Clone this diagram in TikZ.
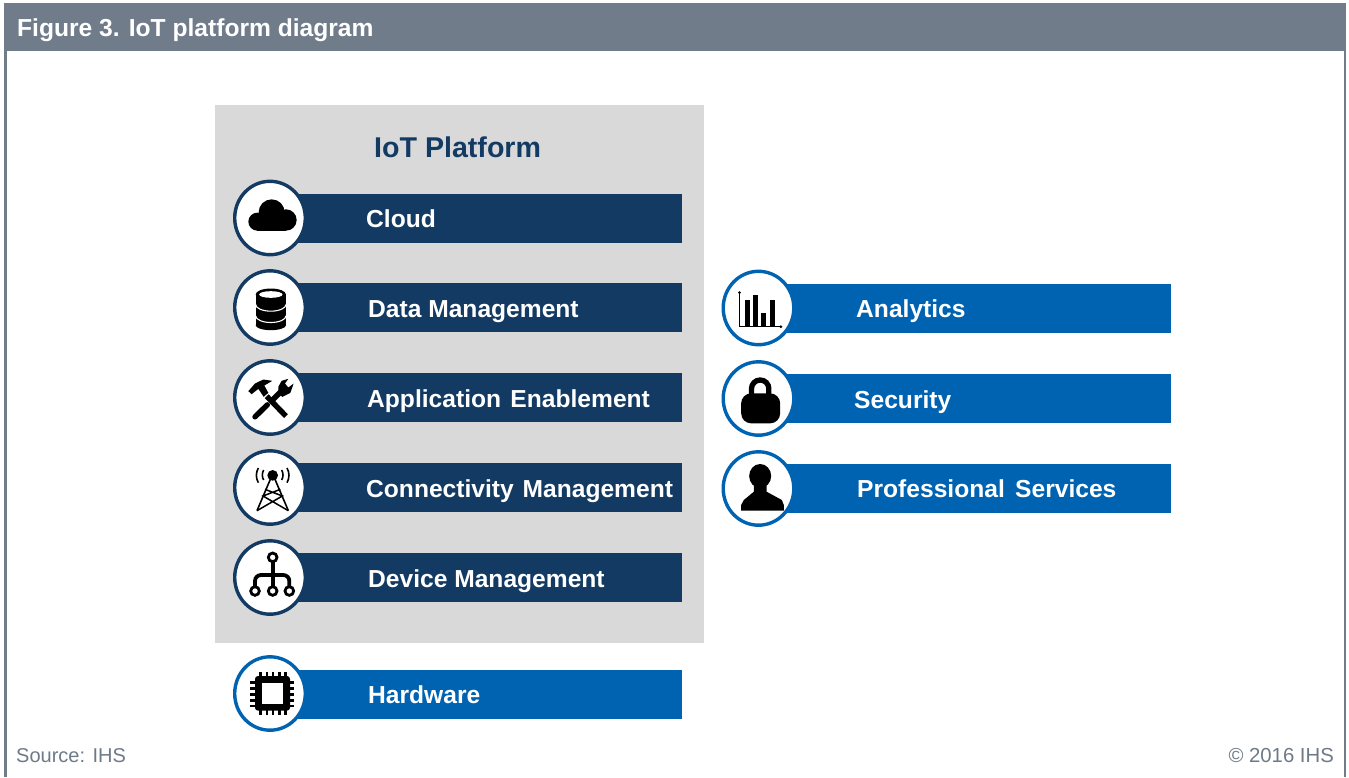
\documentclass[tikz,border=0pt]{standalone}
\usepackage{fontspec}
\usetikzlibrary{shapes.geometric}
\setmainfont{Liberation Sans}
\definecolor{headgrey}{HTML}{717C8B}
\definecolor{panelgrey}{HTML}{D9D9D9}
\definecolor{navy}{HTML}{123A63}
\definecolor{ihsblue}{HTML}{0063B1}
\definecolor{srcgrey}{HTML}{6F7A89}
\newcommand{\fs}[1]{\fontsize{#1}{#1}\selectfont}
\newcommand{\iconat}[4]{\begin{scope}[x=0.3333pt,y=-0.3333pt,shift={(#1)},shift={(-#2,-#3)}]#4\end{scope}}
\tikzset{
  x=1pt,y=-1pt,
  bar/.style={rectangle,inner sep=0pt,minimum width=391pt,minimum height=49pt,anchor=west},
  navybar/.style={bar,fill=navy},
  bluebar/.style={bar,fill=ihsblue},
  disc/.style={ellipse,fill=white,draw=#1,line width=3.4pt,minimum width=70.6pt,minimum height=73.4pt,inner sep=0pt},
  label/.style={anchor=base west,text=white,font=\bfseries\fs{24.6},inner sep=0pt},
  ico/.style={fill=black,draw=none},
}
\begin{document}
\begin{tikzpicture}
\useasboundingbox (0,0) rectangle (1349,777);
\fill[white] (0,0) rectangle (1349,777);
% frame
\fill[headgrey] (4,3) rectangle (1346,51);
\fill[headgrey] (4,51) rectangle (7,777);
\fill[headgrey] (1344,51) rectangle (1346,777);
\node[anchor=base west,text=white,font=\bfseries\fs{24.6},inner sep=0pt] (title) at (17,36.5) {Figure 3. IoT platform diagram};
% panel
\node[rectangle,fill=panelgrey,inner sep=0pt,minimum width=489pt,minimum height=538pt,anchor=north west] (panel) at (215,105) {};
\node[anchor=base west,text=navy,font=\bfseries\fs{28.6},inner sep=0pt] (ptitle) at (374,157) {IoT Platform};
% bars
\node[navybar] (b1) at (291,218) {};
\node[navybar] (b2) at (291,307.3) {};
\node[navybar] (b3) at (291,397) {};
\node[navybar] (b4) at (291,487.5) {};
\node[navybar] (b5) at (291,577.3) {};
\node[bluebar] (b6) at (291,694.5) {};
\node[bluebar] (r1) at (780,308.3) {};
\node[bluebar] (r2) at (780,398.8) {};
\node[bluebar] (r3) at (780,488.5) {};
% discs
\node[disc=navy] (c1) at (270,218) {};
\node[disc=navy] (c2) at (270,307.5) {};
\node[disc=navy] (c3) at (270,397.5) {};
\node[disc=navy] (c4) at (270,487.5) {};
\node[disc=navy] (c5) at (270,577.5) {};
\node[disc=ihsblue] (c6) at (270,693.5) {};
\node[disc=ihsblue] (d1) at (758.5,308) {};
\node[disc=ihsblue] (d2) at (758.5,398.5) {};
\node[disc=ihsblue] (d3) at (758.5,488.5) {};
% labels
\node[label] (l1) at (366,227) {Cloud};
\node[label] (l2) at (368,317) {Data Management};
\node[label] (l3) at (367,407) {Application\hspace{2.5pt} Enablement};
\node[label] (l4) at (366,497) {Connectivity\hspace{2pt} Management};
\node[label] (l5) at (368,587) {Device Management};
\node[label] (l6) at (368,703) {Hardware};
\node[label] (l7) at (856,317) {Analytics};
\node[label] (l8) at (854,408.5) {Security};
\node[label] (l9) at (857,497) {Professional\hspace{3.5pt} Services};
% footer
\node[anchor=base west,text=srcgrey,font=\fs{20},inner sep=0pt] (src) at (16,762) {Source: IHS};
\node[anchor=base east,text=srcgrey,font=\fs{20.3},inner sep=0pt] (copy) at (1334,762) {© 2016 IHS};
% cloud
\iconat{c1.center}{135}{144}{
  \fill[ico] (97,155) circle (27);
  \fill[ico] (140,127) circle (39);
  \fill[ico] (183,150) circle (32);
  \fill[ico] (97,130) rectangle (183,182);
}
% database
\iconat{c2.center}{135}{412}{
  \fill[ico] (92,373) rectangle (183,465);
  \fill[ico] (137.5,373) ellipse (45.5 and 18);
  \fill[ico] (137.5,465) ellipse (45.5 and 15);
  \fill[white] (137.5,373) ellipse (35 and 10);
  \draw[white,line width=1.1pt] (92,403) arc[start angle=180,end angle=0,x radius=45.5,y radius=20];
  \draw[white,line width=1.1pt] (92,437) arc[start angle=180,end angle=0,x radius=45.5,y radius=20];
}
% tools
\iconat{c3.center}{135}{682}{
  \draw[black,line width=5.4pt] (125,678) -- (183,738);
  \fill[ico] (70,663) -- (90,640) -- (115,628) -- (142,632) -- (118,646) -- (130,668) -- (116,680) -- (100,656) -- (80,672) -- cycle;
  \draw[black,line width=5.4pt,line cap=round] (90,740) -- (127,704);
  \draw[black,line width=5.4pt] (142,690) -- (172,660);
  \fill[ico] (160,668) -- (172,680) -- (196,668) -- (206,640) -- (190,652) -- (180,640) -- (190,626) -- (170,632) -- (160,650) -- cycle;
}
% tower
\iconat{c4.center}{135}{142.5}{
  \fill[ico] (143,106) circle (16);
  \draw[black,line width=1.6pt] (96,212) -- (136,118) (190,212) -- (150,118);
  \draw[black,line width=1.5pt] (96,212) -- (172,168) -- (120,148) (190,212) -- (114,168) -- (166,148);
  \draw[black,line width=1.6pt] (116,90) arc[start angle=210,end angle=150,radius=30];
  \draw[black,line width=1.6pt] (100,84) arc[start angle=210,end angle=150,radius=44];
  \draw[black,line width=1.6pt] (170,90) arc[start angle=-30,end angle=30,radius=30];
  \draw[black,line width=1.6pt] (186,84) arc[start angle=-30,end angle=30,radius=44];
}
% device tree
\iconat{c5.center}{135}{412.5}{
  \draw[black,line width=3.8pt,rounded corners=6pt] (90,453) -- (90,405) -- (193,405) -- (193,453);
  \draw[black,line width=3.8pt] (143,352) -- (143,453);
  \foreach \p in {(143,352),(90,453),(143,453),(193,453)}
    \draw[black,fill=white,line width=2.8pt] \p circle (13);
}
% chip
\iconat{c6.center}{135}{760.5}{
  \foreach \u in {0,1,2,3,4} {
    \fill[ico] ({103+\u*18.5},695) rectangle ({111+\u*18.5},825);
    \fill[ico] (76,{724+\u*17.5}) rectangle (207,{732+\u*17.5});
  }
  \fill[ico,rounded corners=3pt] (90,708) rectangle (195,812);
  \fill[white] (112,729) rectangle (175,791);
}
% chart
\iconat{d1.center}{130}{144}{
  \draw[black,line width=0.8pt] (73,98) -- (73,200) -- (197,200);
  \fill[ico] (73,98) circle (4.5);
  \fill[ico] (197,200) circle (4.5);
  \fill[ico] (88,120) rectangle (103,200);
  \fill[ico] (113,105) rectangle (127,200);
  \fill[ico] (138,160) rectangle (152,200);
  \fill[ico] (163,120) rectangle (178,200);
}
% lock
\iconat{d2.center}{130}{415.5}{
  \draw[black,line width=5.3pt] (109,405) -- (109,386) arc[start angle=180,end angle=360,radius=26] -- (161,405);
  \fill[ico,rounded corners=10pt] (78,400) rectangle (195,490);
}
% person
\iconat{d3.center}{130}{685.5}{
  \fill[ico] (135,648) ellipse (33 and 36);
  \fill[ico] (116,665) -- (154,665) -- (154,695) -- (200,720) -- (206,735) -- (206,752) -- (78,752) -- (78,735) -- (86,720) -- (116,695) -- cycle;
}
\end{tikzpicture}
\end{document}
